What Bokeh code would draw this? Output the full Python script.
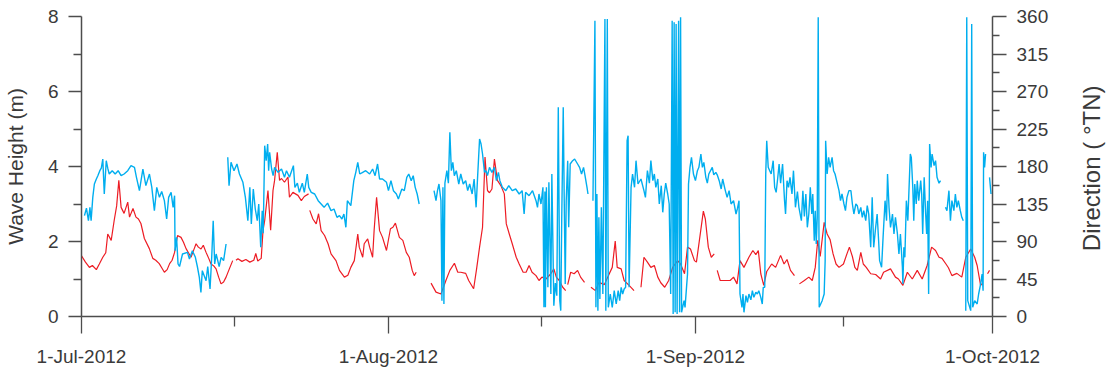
import math
from bokeh.plotting import figure
from bokeh.layouts import row
from bokeh.models import Range1d, LinearAxis, FixedTicker, Label
from bokeh.embed import file_html
from bokeh.resources import INLINE

nan = float("nan")

# x positions are days after 1-Jul-2012
date_ticks = [0, 31, 62, 92]
date_labels = ["1-Jul-2012", "1-Aug-2012", "1-Sep-2012", "1-Oct-2012"]
date_minor = [15.5, 46.5, 77]

height_ticks = [0, 2, 4, 6, 8]
height_minor = [1, 3, 5, 7]
dir_ticks = [0, 45, 90, 135, 180, 225, 270, 315, 360]
dir_minor = [22.5, 67.5, 112.5, 157.5, 202.5, 247.5, 292.5, 337.5]

# Significant wave height (m)
red_day = [
    0.0, 0.4, 0.8, 1.1, 1.5, 1.8, 2.15, 2.45, 2.65, 3.0, 3.3, 3.55, 3.77, 4.0, 4.3, 4.67, 4.85,
    5.2, 5.5, 5.75, 6.0, 6.35, 6.85, 7.2, 7.5, 7.85, 8.1, 8.37, 8.65, 8.9, 9.15, 9.4, 9.7,
    10.05, 10.3, 10.56, 10.8, 11.06, 11.3, 11.57, 11.8, 12.07, 12.3, 12.58, 12.85, 13.08,
    13.35, 13.59, 13.85, 14.09, 14.35, 14.6, 14.93, 15.27, 15.45, 15.6, 15.8, 16.2, 16.6,
    17.0, 17.4, 17.6, 17.8, 18.15, 18.33, 18.5, 18.83, 19.1, 19.34, 19.5, 19.77, 20.0, 20.2,
    20.5, 20.85, 21.0, 21.35, 21.86, 22.2, 22.5, 22.93, 22.98, 23.05, 23.37, 23.7, 23.94,
    24.2, 24.55, 24.9, 25.2, 25.7, 26.05, 26.55, 26.9, 27.2, 27.55, 27.9, 28.05, 28.4, 28.55,
    28.9, 29.1, 29.4, 29.55, 29.8, 30.1, 30.4, 30.8, 31.2, 31.45, 31.7, 32.1, 32.45, 32.8,
    33.1, 33.4, 33.6, 33.8, 34.5, 35.3, 35.8, 36.3, 36.8, 37.2, 37.66, 38.0, 38.3, 38.8,
    39.1, 39.6, 39.9, 40.2, 40.5, 40.75, 41.0, 41.2, 41.45, 41.7, 42.0, 42.35, 42.7, 42.9,
    43.2, 43.5, 43.9, 44.2, 44.6, 44.9, 45.2, 45.5, 45.9, 46.2, 46.5, 46.9, 47.4, 47.7,
    47.95, 48.25, 48.6, 48.9, 49.0, 49.1, 49.4, 49.75, 50.1, 50.4, 50.8, 51.1, 51.45, 51.9,
    52.25, 52.8, 53.3, 53.6, 53.9, 54.1, 54.5, 54.8, 55.3, 55.8, 56.1, 56.5, 56.8, 57.15,
    57.5, 57.85, 58.2, 58.5, 58.9, 59.3, 59.7, 60.2, 60.5, 60.9, 61.2, 61.5, 61.9, 62.1,
    62.4, 62.8, 63.0, 63.3, 63.6, 63.9, 64.05, 64.2, 64.5, 65.0, 65.5, 65.85, 66.2, 66.5,
    66.9, 67.4, 67.8, 68.1, 68.35, 68.6, 68.9, 69.2, 69.7, 70.1, 70.6, 70.95, 71.25, 71.6,
    72.0, 72.25, 72.5, 73.0, 73.45, 73.8, 74.1, 74.35, 74.6, 75.0, 75.3, 75.6, 75.9, 76.2,
    76.5, 76.95, 77.3, 77.55, 77.85, 78.1, 78.35, 78.7, 78.95, 79.25, 79.7, 80.2, 80.7,
    81.0, 81.7, 82.2, 82.5, 82.95, 83.4, 83.9, 84.4, 84.9, 85.4, 85.85, 86.25, 86.6, 86.9,
    87.3, 87.55, 87.9, 88.4, 88.9, 89.3, 89.8, 90.2, 90.45, 90.8, 90.95, 91.2, 91.5, 91.7,
]
red_h = [
    1.62, 1.45, 1.31, 1.36, 1.25, 1.40, 1.58, 1.70, 2.20, 2.03, 2.56, 2.95, 3.63, 2.91, 2.75, 3.05, 2.65,
    2.88, 2.65, 2.60, 2.48, 2.08, 1.81, 1.55, 1.50, 1.41, 1.30, 1.18, 1.25, 1.41, 1.50, 1.71, 2.16,
    2.11, 1.98, 1.81, 1.70, 1.58, 1.75, 1.94, 1.85, 1.80, 1.90, 1.71, 1.55, 1.40,
    1.35, 1.27, 1.05, 0.87, 0.92, 1.05, 1.27, 1.49, nan, 1.50, 1.54, 1.47, 1.52,
    1.45, 1.50, 1.68, 1.48, 1.55, 2.29, 2.56, 3.36, 2.30, 3.36, 3.63, 4.38, 3.63, 3.68,
    3.58, 3.72, 3.18, 3.31, 3.23, 3.09, 3.20, 3.27, nan, 2.83, 2.60, 2.47, 2.74,
    2.29, 2.16, 1.94, 1.67, 1.49, 1.23, 1.05, 1.10, 1.31, 1.49, 2.20, 1.85, 1.58, 1.94,
    2.07, 1.85, 1.58, 2.29, 3.18, 2.29, 2.11, 1.76, 2.34, 2.38, 2.49, 2.11, 2.03, 1.71,
    1.58, 1.23, 1.09, 1.18, nan, 0.89, 0.65, 0.60, 0.96, 1.23, 1.42, 1.18, 1.18, 1.15,
    0.96, 0.74, 1.27, 1.85, 2.38, 4.25, 3.36, 3.30, 3.40, 4.20, 3.63, 3.49, 3.27, 2.47,
    2.20, 1.94, 1.58, 1.40, 1.18, 1.18, 1.36, 1.18, 1.09, 0.96, 1.05, 1.00, 1.14, 1.27,
    1.05, 0.96, 0.78, 0.69, nan, 0.85, 1.18, 1.14, 1.23, 1.05, 0.91, nan, 0.78, 0.69,
    0.91, 0.85, 1.14, 1.31, 2.01, 1.31, 1.27, 0.96, 0.83, 0.69, nan, 0.78, 1.58, 1.45,
    1.31, 1.36, 1.05, 0.90, 0.78, 0.96, 1.31, 1.49, 1.40, 1.14, 1.85, 1.80, 1.49, 1.45,
    2.03, 2.81, 2.60, 1.85, 1.58, 1.67, nan, 1.23, 0.96, 0.96, 0.96, 1.05, 0.87, 1.49,
    1.31, 1.58, 1.76, 1.65, 1.76, 1.14, 0.83, 1.20, 1.40, 1.31, 1.63, 1.40, 1.52, 1.23,
    1.09, nan, 0.87, 0.96, 1.05, 0.96, 1.31, 2.03, 1.60, 2.51, 2.20, 2.05, 1.67, 1.40,
    1.31, 1.40, 1.67, 1.85, 1.60, 1.31, 1.23, 1.71, 1.40, 1.31, 1.14, 1.12, 1.00,
    1.18, 1.27, 1.05, 1.00, 0.83, 1.18, 1.00, 1.23, 1.00, 1.36, 1.85, 1.76, 1.58, 1.55,
    1.40, 1.30, 1.09, 1.15, 1.05, 1.58, 1.80, 1.58, 1.36, 0.83, 0.88, nan, 1.14, 1.23,
]

# Wave direction (degrees TN)
blue_day = [
    0.3, 0.5, 0.7, 0.85, 0.97, 1.14, 1.3, 1.5, 1.65, 1.85, 2.0, 2.15, 2.3, 2.5, 2.65, 2.8,
    3.1, 3.4, 3.7, 4.0, 4.3, 4.67, 5.0, 5.35, 5.55, 5.85, 6.2, 6.5, 6.86, 7.1, 7.36, 7.6,
    7.87, 8.1, 8.37, 8.6, 8.8, 9.05, 9.25, 9.4, 9.45, 9.6, 9.75, 9.9, 10.2, 10.7, 10.9,
    11.2, 11.5, 11.7, 11.9, 12.06, 12.2, 12.58, 12.75, 12.98, 13.15, 13.3, 13.45, 13.6,
    13.9, 14.1, 14.35, 14.6, 14.7,
    14.77, 14.9, 15.1, 15.4, 15.7, 15.95, 16.3, 16.55, 16.8, 17.0, 17.15, 17.35, 17.55,
    17.75, 17.9, 18.1, 18.25, 18.35, 18.5, 18.65, 18.8, 18.9, 19.0, 19.2, 19.35, 19.5,
    19.85, 20.2, 20.5, 20.7, 21.0, 21.4, 21.55, 21.8, 22.0, 22.3, 22.5, 22.8, 22.95, 23.2,
    23.55, 23.9, 24.2, 24.5, 24.85, 25.2, 25.5, 25.8, 26.05, 26.3, 26.5, 26.7, 26.85, 27.2,
    27.5, 27.7, 27.9, 28.1, 28.4, 28.7, 29.1, 29.4, 29.65, 29.9, 30.1, 30.4, 30.8, 31.0,
    31.25, 31.5, 31.8, 32.0, 32.35, 32.6, 32.85, 33.05, 33.3, 33.5, 33.7, 33.9, 34.1, 34.8,
    35.6, 35.8, 35.95, 36.1, 36.3, 36.4, 36.5, 36.6, 36.7, 36.9, 37.05, 37.2, 37.35, 37.5,
    37.65, 37.85, 38.1, 38.3, 38.55, 38.8, 39.0, 39.2, 39.45, 39.65, 39.85, 40.0, 40.2,
    40.35, 40.5, 40.7, 40.85, 41.0, 41.2, 41.45, 41.7, 41.9, 42.1, 42.25, 42.5, 42.85,
    43.15, 43.5, 43.85, 44.2, 44.5, 44.7, 44.85, 45.2, 45.55, 45.9, 46.05, 46.2, 46.4,
    46.6, 46.7, 46.8, 46.85, 46.95, 47.1, 47.2, 47.4, 47.5, 47.7, 47.85, 48.0, 48.15, 48.3,
    48.4, 48.5, 48.65, 48.75, 48.85, 48.95, 49.1, 49.2, 49.35, 49.6, 49.8, 50.1, 50.3,
    50.5, 50.7, 50.85, 51.05, 51.15, 51.4,
    51.65, 51.85, 51.95, 52.05, 52.15, 52.25, 52.35, 52.5, 52.65, 52.86, 52.95, 53.1, 53.2,
    53.4, 53.6, 53.8, 54.0, 54.2, 54.35, 54.5, 54.65, 54.8, 54.95, 55.1, 55.2, 55.3, 55.5,
    55.65, 55.85, 56.0, 56.2, 56.5, 56.8, 56.95, 57.15, 57.35, 57.5, 57.7, 57.85, 58.0,
    58.2, 58.35, 58.55, 58.7, 58.85, 59.0, 59.2, 59.35, 59.5, 59.65, 59.75, 59.85, 59.95,
    60.05, 60.15, 60.3, 60.4, 60.5, 60.6, 60.85, 60.95, 61.1, 61.2, 61.3, 61.45, 61.6,
    61.8, 62.0, 62.2, 62.35, 62.55, 62.7, 62.85, 63.05, 63.2, 63.35, 63.7, 63.85, 64.06,
    64.2, 64.4, 64.6, 64.75, 65.0, 65.2, 65.4, 65.6, 65.85, 66.1, 66.25, 66.4, 66.5, 66.7,
    66.8, 66.9, 67.1, 67.25, 67.4, 67.6, 67.75, 67.9, 68.1, 68.25, 68.4, 68.6, 68.75,
    68.85, 69.0, 69.1, 69.2, 69.35, 69.5, 69.65, 69.85, 70.0, 70.15, 70.3, 70.45, 70.6,
    70.8, 71.0, 71.1, 71.25, 71.4, 71.55, 71.75, 71.9, 72.1, 72.3, 72.45, 72.7, 72.85,
    73.0, 73.15, 73.3, 73.45, 73.6, 73.75, 73.85, 74.0, 74.1, 74.2, 74.3, 74.4, 74.5,
    74.65, 74.8, 75.0, 75.1, 75.15, 75.3, 75.45, 75.6, 75.8, 75.95, 76.1, 76.3, 76.5,
    76.65, 76.8, 77.0, 77.15, 77.3, 77.5, 77.7, 77.85, 78.0, 78.2, 78.35, 78.5, 78.7,
    78.85, 79.0, 79.2, 79.35, 79.5, 79.7, 79.85, 80.0, 80.2, 80.35, 80.5, 80.6, 80.8,
    80.95, 81.15, 81.3, 81.4, 81.55, 81.7, 81.9, 82.05, 82.2, 82.4, 82.55, 82.7, 82.9,
    82.95, 83.05, 83.15, 83.3, 83.45, 83.55, 83.7, 83.8, 83.95, 84.05, 84.15, 84.3, 84.4,
    84.55, 84.75, 84.85, 84.95, 85.1, 85.25, 85.35, 85.45, 85.55, 85.65, 85.8, 85.9, 86.1,
    86.25, 86.4, 86.6, 86.75, 86.9, 87.25, 87.4, 87.6, 87.75, 87.9, 88.1, 88.25, 88.4,
    88.55, 88.75, 88.9, 89.05, 89.15, 89.3, 89.4, 89.5, 89.7, 89.8, 89.9, 90.0, 90.2,
    90.45, 90.6, 90.8, 90.95, 91.05, 91.1, 91.2, 91.3, 91.45, 91.7, 91.85,
]
blue_dir = [
    121, 130, 115, 131, 115, 143, 159, 165, 169, 175, 178, 189, 147, 187, 178, 171,
    175, 171, 175, 169, 171, 175, 181, 179, 167, 151, 177, 157, 171, 155, 127, 155,
    143, 150, 139, 117, 143, 149, 131, 145, 79, 95, 63, 60, 75, 77, 69,
    79, 71, 60, 47, 29, 55, 43, 60, 33, 71, 115, 63, 75,
    60, 71, 67, 87, nan,
    191, 157, 185, 175, 183, 171, 161, 143, 115, 155, 111, 153, 129,
    115, 135, 83, 127, 100, 205, 187, 207, 175, 197, 177, 169, 179,
    173, 177, 167, 175, 167, 181, 155, 160, 149, 160, 149, 171, 155, 149,
    147, 139, 135, 131, 136, 127, 129, 119, 121, 117, 123, 107, 139, 133,
    163, 173, 185, 171, 173, 175, 171, 177, 169, 183, 165, 165, 161, 151,
    163, 151, 147, 141, 153, 151, 167, 171, 163, 169, 155, 147, 135, nan,
    151, 139, 151, 159, 139, 19, 155, 15, 160, 175, 160, 221, 175, 185,
    169, 175, 159, 171, 159, 163, 151, 159, 147, 165, 131, 167, 213,
    207, 195, 173, 175, 169, 179, 173, 179, 163, 173, 163, 155, 151,
    157, 151, 153, 147, 151, 123, 149, 145, 151, 139, 131, 147, 135,
    155, 11, 150, 11, 155, 35, 161, 27, 171, 13, 40, 25, 251, 19,
    7, 119, 251, 139, 39, 139, 187, 107, 183, 187, 189, 183, 179,
    171, 179, 169, 155, 147, nan,
    139, 355, 11, 147, 7, 119, 21, 131, 27, 357, 7, 357, 11,
    27, 11, 31, 15, 31, 19, 35, 27, 33, 35, 211, 217, 35, 155,
    171, 155, 187, 159, 165, 151, 143, 175, 160, 187, 163, 171, 155,
    165, 135, 157, 125, 147, 160, 147, 135, 27, 355, 3, 353, 5,
    351, 3, 355, 5, 359, 5, 19, 11, 35, 51, 159, 179, 191,
    171, 163, 175, 179, 195, 179, 185, 167, 160, 171, 179, 170, 173,
    170, 163, 153, 165, 152, 143, 151, 135, 139, 123, 130, 139, 27, 11,
    27, 5, 25, 17, 27, 20, 31, 23, 29, 27, 31, 23, 15,
    35, 35, 171, 211, 179, 175, 171, 187, 155, 149, 165, 183, 160,
    183, 139, 123, 163, 155, 167, 147, 175, 131, 150, 131, 115, 151,
    120, 147, 107, 123, 155, 123, 147, 91, 127, 87, 119, 359, 11,
    15, 19, 27, 67, 211, 171, 191, 179, 191, 175, 171, 161, 151,
    139, 147, 135, 127, 143, 151, 151, 135, 123, 135, 133, 123, 131,
    119, 127, 115, 133, 123, 83, 143, 83, 107, 123, 91, 67, 59,
    95, 139, 115, 171, 131, 107, 123, 99, 119, 99, 75, 99, 59,
    39, 83, 71, 139, 115, 147, 195, 191, 155, 115, 159, 135, 163,
    139, 163, 147, 99, 167, 123, 99, 139, 27, 207, 179, 195, 181,
    187, 167, 160, 163, nan, 131, 127, 151, 115, 139, 127, 147, 131,
    139, 127, 119, 115, nan, 7, 359, 19, 11, 7, 351, 11, 19,
    15, 27, 39, 51, 31, 197, 179, 195, nan, 167, 147,
]

RED = "#ed1c24"
BLUE = "#00aeef"
AXIS = "#4d4d4d"
TEXT = "#3a3a3a"
FONT = "Liberation Sans"

p = figure(width=1072, height=372, output_backend="svg", toolbar_location=None,
           x_range=Range1d(0, 92), y_range=Range1d(0, 8),
           min_border_left=80, min_border_right=80, min_border_top=16, min_border_bottom=56)
p.extra_y_ranges = {"dir": Range1d(0, 360)}
p.outline_line_color = None
p.xgrid.visible = False
p.ygrid.visible = False
p.background_fill_color = "white"
p.border_fill_color = "white"

p.line(red_day, red_h, line_color=RED, line_width=1.2)
p.line(blue_day, blue_dir, line_color=BLUE, line_width=1.4, y_range_name="dir")

xa = p.xaxis[0]
xa.ticker = FixedTicker(ticks=date_ticks, minor_ticks=date_minor)
xa.major_label_overrides = {t: l for t, l in zip(date_ticks, date_labels)}

ya = p.yaxis[0]
ya.ticker = FixedTicker(ticks=height_ticks, minor_ticks=height_minor)
ya.axis_label = "Wave Height (m)"

ra = LinearAxis(y_range_name="dir", ticker=FixedTicker(ticks=dir_ticks, minor_ticks=dir_minor))
p.add_layout(ra, "right")

for ax in (xa, ya, ra):
    ax.axis_line_color = AXIS
    ax.axis_line_width = 1.5
    ax.major_tick_line_color = AXIS
    ax.minor_tick_line_color = AXIS
    ax.major_tick_line_width = 1.3
    ax.minor_tick_line_width = 1.3
    ax.major_tick_in = 0
    ax.minor_tick_in = 0
    ax.major_label_text_font = FONT
    ax.major_label_text_font_size = "19px"
    ax.major_label_text_color = TEXT
    ax.axis_label_text_font = FONT
    ax.axis_label_text_font_size = "21px"
    ax.axis_label_text_font_style = "normal"
    ax.axis_label_text_color = TEXT

xa.major_tick_out = 17
xa.minor_tick_out = 10
xa.major_label_standoff = 12
ya.major_tick_out = 13
ya.minor_tick_out = 8
ya.major_label_standoff = 10
ya.axis_label_standoff = 18
ra.major_tick_out = 14
ra.minor_tick_out = 7
ra.major_label_standoff = 10

# narrow strip holding the right-hand axis title (reads bottom to top)
t = figure(width=36, height=372, output_backend="svg", toolbar_location=None,
           x_range=Range1d(0, 36), y_range=Range1d(0, 372),
           x_axis_type=None, y_axis_type=None,
           min_border_left=0, min_border_right=0, min_border_top=0, min_border_bottom=0)
t.outline_line_color = None
t.xgrid.visible = False
t.ygrid.visible = False
t.background_fill_color = "white"
t.border_fill_color = "white"
t.add_layout(Label(x=19, y=192, text="Direction  (  \u00b0TN)", angle=math.pi / 2,
                   text_align="center", text_baseline="middle", text_font=FONT,
                   text_font_size="24px", text_color=TEXT))

layout = row(p, t, spacing=0)
open("out.html", "w").write(file_html(layout, INLINE))
